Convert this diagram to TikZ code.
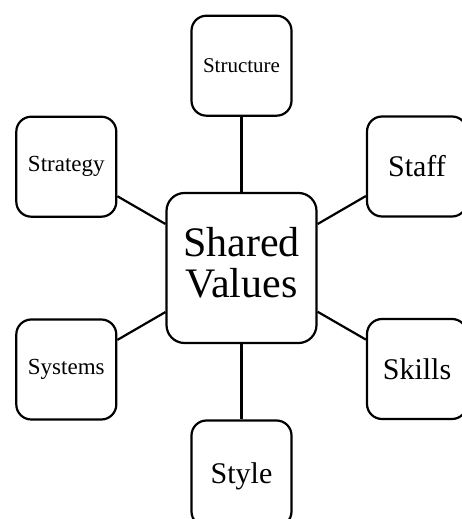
\documentclass[tikz,border=0pt]{standalone}
\usepackage{fontspec}
\setmainfont{Liberation Serif}
\begin{document}
\begin{tikzpicture}[x=1pt,y=1pt,
  elem/.style={draw, line width=2.2pt, rounded corners=15pt, minimum width=100pt,
    minimum height=100pt, inner sep=0pt, align=center, fill=white},
  core/.style={elem, rounded corners=18pt, minimum width=150pt, minimum height=150pt},
  link/.style={line width=2.2pt},
  small/.style={font=\fontsize{21}{25}\selectfont},
  medium/.style={font=\fontsize{23}{27}\selectfont},
  large/.style={font=\fontsize{30}{34}\selectfont},
  huge/.style={font=\fontsize{42}{41}\selectfont}]
  \clip (0,0) rectangle (462,519);
  \fill[white] (0,0) rectangle (462,519);

  % the central element
  \node[core, huge, text depth=12pt] (values) at (241.5,251) {Shared\\Values};

  % the six surrounding elements
  \node[elem, small]  (structure) at (241.5,453.3) {Structure};
  \node[elem, medium] (strategy)  at (66.3,352.3)  {Strategy};
  \node[elem, large]  (staff)     at (417,352.5)   {Staff};
  \node[elem, medium] (systems)   at (66.3,149.5)  {Systems};
  \node[elem, large]  (skills)    at (417,150)     {Skills};
  \node[elem, large, minimum height=106pt, text depth=0pt] (style) at (241.5,45.5) {Style};

  % spokes
  \foreach \n in {structure,strategy,staff,systems,skills,style}
    \draw[link] (values) -- (\n);
\end{tikzpicture}
\end{document}
